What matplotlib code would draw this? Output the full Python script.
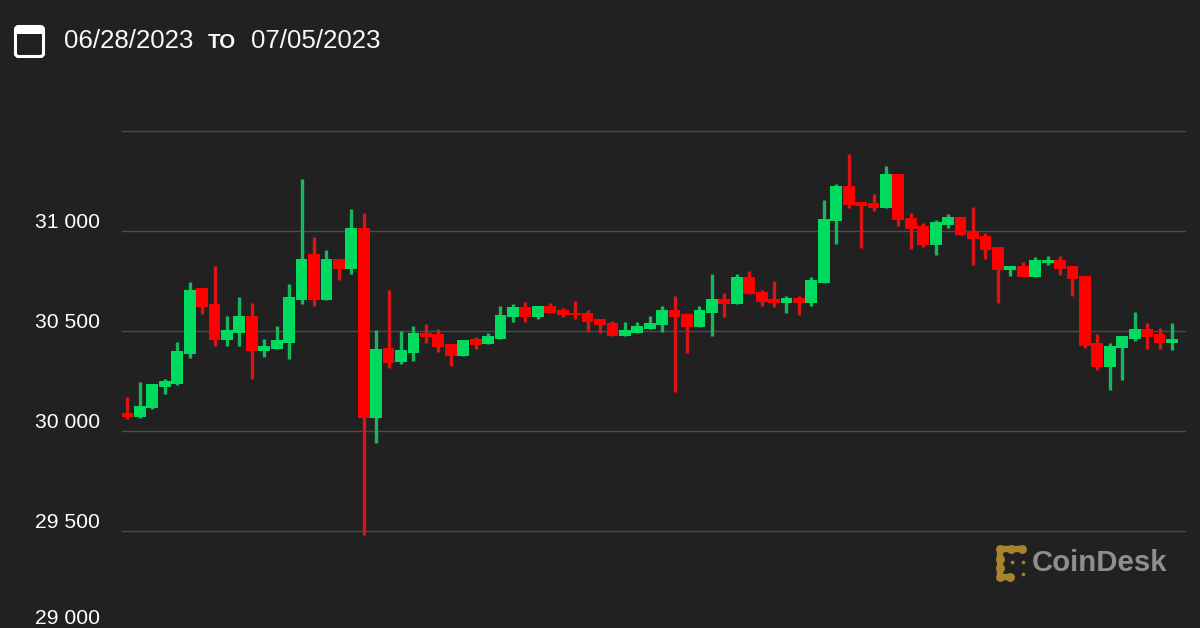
import matplotlib
matplotlib.use("Agg")
import matplotlib.pyplot as plt
from matplotlib.patches import FancyBboxPatch, Rectangle
from matplotlib.transforms import ScaledTranslation

start_date = "06/28/2023"
end_date = "07/05/2023"
y_ticks = [29000, 29500, 30000, 30500, 31000, 31500]
y_labels = ["29 000", "29 500", "30 000", "30 500", "31 000", ""]

# upper and lower body edge, high, low, direction for each 2-hour candle
body_top = [30090,30125,30235,30250,30400,30705,30715,30635,30505,30575,30575,30425,30455,30670,30860,30885,30860,30860,31015,31015,
            30410,30415,30405,30490,30490,30485,30435,30455,30460,30475,30580,30620,30620,30625,30625,30605,30590,30590,30560,30540,
            30505,30525,30540,30605,30605,30585,30605,30660,30660,30770,30770,30695,30660,30665,30665,30755,31060,31225,31225,31145,
            31140,31285,31285,31065,31025,31045,31070,31070,30995,30975,30920,30825,30825,30855,30855,30855,30825,30775,30440,30425,
            30475,30510,30510,30485,30460]
body_bottom = [30070,30070,30115,30220,30235,30385,30620,30455,30455,30490,30400,30400,30410,30440,30655,30655,30655,30810,30810,30065,
               30065,30340,30345,30390,30470,30420,30375,30375,30430,30435,30460,30570,30570,30570,30590,30580,30580,30545,30530,30475,
               30475,30490,30510,30530,30570,30520,30520,30590,30635,30635,30685,30645,30640,30640,30640,30640,30740,31050,31130,31125,
               31115,31115,31055,31010,30930,30930,31030,30980,30960,30905,30805,30805,30770,30770,30840,30810,30760,30425,30320,30320,
               30415,30460,30470,30440,30440]
high = [30170,30245,30235,30260,30445,30745,30715,30825,30575,30670,30640,30460,30525,30735,31260,30970,30905,30860,31110,31090,
        30505,30705,30500,30525,30535,30510,30435,30455,30470,30490,30625,30635,30645,30625,30640,30615,30650,30605,30560,30550,
        30545,30545,30575,30625,30675,30590,30625,30785,30690,30785,30800,30705,30750,30675,30675,30770,31155,31235,31385,31145,
        31185,31325,31285,31090,31040,31055,31085,31070,31120,30990,30920,30825,30845,30870,30875,30875,30825,30775,30485,30440,
        30475,30595,30540,30515,30540]
low = [30060,30065,30110,30185,30230,30365,30585,30425,30425,30425,30260,30370,30410,30360,30635,30625,30655,30755,30785,29480,
       29940,30315,30335,30350,30440,30395,30325,30375,30410,30435,30460,30545,30545,30560,30590,30570,30560,30495,30490,30475,
       30475,30490,30510,30495,30195,30390,30520,30475,30570,30635,30685,30625,30620,30590,30580,30625,30740,30935,31115,30915,
       31100,31115,31025,30910,30920,30880,31015,30980,30830,30860,30640,30775,30770,30770,30830,30780,30675,30415,30305,30205,
       30255,30450,30410,30410,30405]
direction = ("RGGGGGRRGGRGGGGRGRGR"
             "GRGGRRRGRGGGRGRRRRRR"
             "GGGGRRGGRGRRRGRGGGRR"
             "RGRRRGGRRRRGRGGRRRRG"
             "GGRRG")

BG = "#212121"
GRID = "#4b4b4b"
UP_BODY, UP_WICK = "#00db60", "#16b95a"
DOWN_BODY, DOWN_WICK = "#ff0000", "#d91515"

W, H = 1200, 628
plt.rcParams["font.family"] = ["Liberation Sans", "DejaVu Sans"]
fig = plt.figure(figsize=(W / 100, H / 100), dpi=100, facecolor=BG)

top_px, bottom_px, left_px, right_px = 125, 632, 122, 1186
ax = fig.add_axes([left_px / W, (H - bottom_px) / H, (right_px - left_px) / W, (bottom_px - top_px) / H])
ax.set_facecolor(BG)
ax.set_xlim(-0.44, 85.13)
ax.set_ylim(32155 - 5 * bottom_px, 32155 - 5 * top_px)
for s in ax.spines.values():
    s.set_visible(False)
ax.set_xticks([])
ax.set_yticks(y_ticks)
ax.set_yticklabels(y_labels, fontsize=15.2, color="#ffffff")
ax.tick_params(axis="y", length=0, pad=16)
ax.grid(axis="y", color=GRID, linewidth=1.0)
ax.set_axisbelow(True)
for lab, t in zip(ax.get_yticklabels(), y_ticks):
    # the lowest label sits against the canvas edge: lift it just enough to stay whole
    dy = 2.2 if t == y_ticks[0] else -0.6
    lab.set_va("bottom")
    lab.set_transform(lab.get_transform() + ScaledTranslation(0, dy / 72, fig.dpi_scale_trans))

for i in range(len(body_top)):
    up = direction[i] == "G"
    ax.vlines(i, low[i], high[i], color=UP_WICK if up else DOWN_WICK, linewidth=2.4, capstyle="butt", zorder=3)
    ax.bar(i, body_top[i] - body_bottom[i], bottom=body_bottom[i], width=0.95,
           color=UP_BODY if up else DOWN_BODY, linewidth=0, zorder=4)

# overlay in pixel coordinates: header and logo
ov = fig.add_axes([0, 0, 1, 1])
ov.set_xlim(0, W)
ov.set_ylim(H, 0)
ov.axis("off")
ov.patch.set_alpha(0)

ov.add_patch(FancyBboxPatch((17, 28), 25, 27, boxstyle="round,pad=1.5,rounding_size=3", fc=BG, ec="white", lw=2.2))
ov.add_patch(Rectangle((16, 27), 27, 6.5, fc="white", ec="none"))
ov.add_patch(Rectangle((20, 25), 2, 4, fc="white", ec="none"))
ov.add_patch(Rectangle((37, 25), 2, 4, fc="white", ec="none"))

ov.text(64, 41.5, start_date, fontsize=18.6, color="#f8f8f8", va="center", ha="left")
ov.text(208, 42.5, "TO", fontsize=14.8, fontweight="bold", color="#f8f8f8", va="center", ha="left")
ov.text(251, 41.5, end_date, fontsize=18.6, color="#f8f8f8", va="center", ha="left")

GOLD = "#a9842f"
ov.plot([1023, 1000, 1000, 1011], [549, 549, 577, 577], color=GOLD, lw=4.6, solid_capstyle="round", solid_joinstyle="round")
ov.plot([1000, 1011, 1022, 1000, 1000, 1000, 1010], [549, 549, 549, 559, 568, 577, 577], color=GOLD, lw=0, marker="o", ms=6.4, mew=0)
ov.plot([1023, 1023, 1012], [562, 573.5, 562], color=GOLD, lw=0, marker="o", ms=2.6, mew=0)
ov.text(1032, 563, "CoinDesk", fontsize=21.2, fontweight="bold", color="#8e8e8e", va="center", ha="left")

fig.savefig("out.png", dpi=100, facecolor=BG)
